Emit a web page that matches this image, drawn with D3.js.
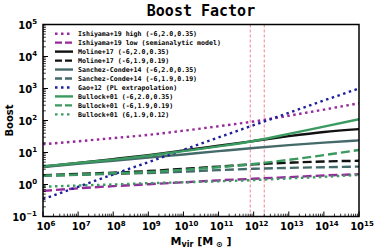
<!DOCTYPE html>
<html>
<head>
<meta charset="utf-8">
<script src="https://cdn.jsdelivr.net/npm/d3@7"></script>
<style>
  html, body { margin: 0; padding: 0; background: #fff; }
  svg { display: block; }
</style>
</head>
<body>
<svg id="chart" width="374" height="249"></svg>
<script>
// Halo mass grid, one point per decade
const masses = [1e6, 1e7, 1e8, 1e9, 1e10, 1e11, 1e12, 1e13, 1e14, 1e15];

// Boost factor for each model
const ishiyamaHigh  = [18.2, 22.4, 28.2, 35.5, 47.9, 66.1, 93.3, 141, 219, 347];
const ishiyamaLow   = [0.63, 0.76, 0.89, 1.02, 1.17, 1.35, 1.51, 1.70, 1.91, 2.09];
const molineHigh    = [3.6, 4.7, 6.2, 8.3, 11.5, 16.2, 22.9, 32.4, 43.7, 53.7];
const molineLow     = [1.95, 2.14, 2.34, 2.63, 3.09, 3.63, 4.27, 4.79, 5.25, 5.5];
const sanchezHigh   = [3.5, 4.4, 5.5, 6.9, 8.7, 11.0, 13.8, 17.0, 20.4, 24.0];
const sanchezLow    = [1.86, 2.0, 2.14, 2.29, 2.51, 2.82, 3.09, 3.31, 3.47, 3.63];
const gaoPL         = [0.35, 0.85, 2.06, 5.0, 12.2, 29.5, 71.6, 174, 422, 1000];
const bullockHigh   = [3.7, 4.7, 6.0, 7.9, 11.0, 15.5, 22.9, 38.0, 64.6, 110];
const bullockLow    = [1.9, 2.04, 2.24, 2.45, 2.88, 3.47, 4.37, 5.89, 8.3, 12.0];
const bullockAlt    = [0.85, 0.93, 1.0, 1.10, 1.17, 1.26, 1.38, 1.55, 1.74, 2.0];

// Milky Way mass range markers
const mwMarkers = [8e11, 2e12];

const xTicks = [6, 7, 8, 9, 10, 11, 12, 13, 14, 15];
const yTicks = [-1, 0, 1, 2, 3, 4, 5];

const PURPLE = '#972a9c', NAVY = '#1f1f9e', GREEN = '#3a9a5f', GREY = '#456a6a';
const DOT = '2.5,3.5', DASH = '9,4';

const series = [
  { label: 'Ishiyama+19 high (-6,2.0,0.35)',        values: ishiyamaHigh, colour: PURPLE, dash: DOT },
  { label: 'Ishiyama+19 low (semianalytic model)',  values: ishiyamaLow,  colour: PURPLE, dash: DASH },
  { label: 'Moline+17 (-6,2.0,0.35)',               values: molineHigh,   colour: '#111', dash: null },
  { label: 'Moline+17 (-6,1.9,0.19)',               values: molineLow,    colour: '#111', dash: DASH },
  { label: 'Sanchez-Conde+14 (-6,2.0,0.35)',        values: sanchezHigh,  colour: GREY,   dash: null },
  { label: 'Sanchez-Conde+14 (-6,1.9,0.19)',        values: sanchezLow,   colour: GREY,   dash: DASH },
  { label: 'Gao+12 (PL extrapolation)',             values: gaoPL,        colour: NAVY,   dash: DOT },
  { label: 'Bullock+01 (-6,2.0,0.35)',              values: bullockHigh,  colour: GREEN,  dash: null },
  { label: 'Bullock+01 (-6,1.9,0.19)',              values: bullockLow,   colour: GREEN,  dash: DASH },
  { label: 'Bullock+01 (6,1.9,0.12)',               values: bullockAlt,   colour: GREEN,  dash: DOT },
];

const svg = d3.select('#chart');
const m = { left: 43, right: 359, top: 24.5, bottom: 216.5 };

const x = d3.scaleLog().domain([1e6, 1e15]).range([m.left, m.right]);
const y = d3.scaleLog().domain([1e-1, 1e5]).range([m.bottom, m.top]);

const SANS = '"DejaVu Sans", sans-serif';
const MONO = '"DejaVu Sans Mono", monospace';

// title
svg.append('text')
  .attr('x', (m.left + m.right) / 2).attr('y', 16)
  .attr('text-anchor', 'middle')
  .attr('font-family', MONO).attr('font-weight', 'bold').attr('font-size', 15)
  .text('Boost Factor');

svg.append('clipPath').attr('id', 'plot-clip')
  .append('rect')
  .attr('x', m.left).attr('y', m.top)
  .attr('width', m.right - m.left).attr('height', m.bottom - m.top);

const plot = svg.append('g').attr('clip-path', 'url(#plot-clip)');

// MW mass markers
plot.selectAll('line.mw')
  .data(mwMarkers)
  .join('line')
  .attr('class', 'mw')
  .attr('x1', d => x(d)).attr('x2', d => x(d))
  .attr('y1', m.top).attr('y2', m.bottom)
  .attr('stroke', '#f0607a').attr('stroke-width', 0.8)
  .attr('stroke-dasharray', '3,2');

const line = d3.line()
  .x((d, i) => x(masses[i]))
  .y(d => y(d))
  .curve(d3.curveMonotoneX);

plot.selectAll('path.series')
  .data(series)
  .join('path')
  .attr('class', 'series')
  .attr('d', d => line(d.values))
  .attr('fill', 'none')
  .attr('stroke', d => d.colour)
  .attr('stroke-width', 2.4)
  .attr('stroke-dasharray', d => d.dash);

// ticks (inward, left and bottom)
const axes = svg.append('g').attr('stroke', '#000');
const minors = [];
for (let e = 6; e < 15; e++) for (let k = 2; k <= 9; k++) minors.push(k * Math.pow(10, e));
axes.selectAll('line.xmaj').data(xTicks).join('line')
  .attr('x1', d => x(Math.pow(10, d))).attr('x2', d => x(Math.pow(10, d)))
  .attr('y1', m.bottom).attr('y2', m.bottom - 5).attr('stroke-width', 1);
axes.selectAll('line.xmin').data(minors).join('line')
  .attr('x1', d => x(d)).attr('x2', d => x(d))
  .attr('y1', m.bottom).attr('y2', m.bottom - 2.8).attr('stroke-width', 0.8);

const yMinors = [];
for (let e = -1; e < 5; e++) for (let k = 2; k <= 9; k++) yMinors.push(k * Math.pow(10, e));
axes.selectAll('line.ymaj').data(yTicks).join('line')
  .attr('y1', d => y(Math.pow(10, d))).attr('y2', d => y(Math.pow(10, d)))
  .attr('x1', m.left).attr('x2', m.left + 5).attr('stroke-width', 1);
axes.selectAll('line.ymin').data(yMinors).join('line')
  .attr('y1', d => y(d)).attr('y2', d => y(d))
  .attr('x1', m.left).attr('x2', m.left + 2.8).attr('stroke-width', 0.8);

// frame
svg.append('rect')
  .attr('x', m.left).attr('y', m.top)
  .attr('width', m.right - m.left).attr('height', m.bottom - m.top)
  .attr('fill', 'none').attr('stroke', '#000').attr('stroke-width', 1.5);

// tick labels
function powLabel(sel, e) {
  sel.append('tspan').text('10');
  sel.append('tspan').attr('dy', -4.5).attr('font-size', 7).text(e < 0 ? '\u2212' + (-e) : e);
}
svg.append('g').selectAll('text').data(xTicks).join('text')
  .attr('x', d => x(Math.pow(10, d)) + 3).attr('y', 230)
  .attr('text-anchor', 'middle')
  .attr('font-family', SANS).attr('font-weight', 'bold').attr('font-size', 10)
  .each(function (d) { powLabel(d3.select(this), d); });
svg.append('g').selectAll('text').data(yTicks).join('text')
  .attr('x', 37).attr('y', d => y(Math.pow(10, d)) + 4)
  .attr('text-anchor', 'end')
  .attr('font-family', SANS).attr('font-weight', 'bold').attr('font-size', 10)
  .each(function (d) { powLabel(d3.select(this), d); });

// axis labels
const xl = svg.append('text')
  .attr('x', (m.left + m.right) / 2).attr('y', 244.5)
  .attr('text-anchor', 'middle')
  .attr('font-family', SANS).attr('font-weight', 'bold').attr('font-size', 11);
xl.append('tspan').text('M');
xl.append('tspan').attr('font-size', 8).attr('dy', 2).text('vir');
xl.append('tspan').attr('dy', -2).text(' [M');
xl.append('tspan').attr('font-size', 8).attr('dy', 2).text(' \u2299');
xl.append('tspan').attr('dy', -2).text(' ]');

svg.append('text')
  .attr('transform', `translate(13,${(m.top + m.bottom) / 2}) rotate(-90)`)
  .attr('text-anchor', 'middle')
  .attr('font-family', SANS).attr('font-weight', 'bold').attr('font-size', 10)
  .text('Boost');

// legend
const legend = svg.append('g').attr('transform', 'translate(55,33.7)');
const row = legend.selectAll('g').data(series).join('g')
  .attr('transform', (d, i) => `translate(0,${i * 8.96})`);
row.append('line')
  .attr('x1', 0).attr('x2', 18).attr('y1', 0).attr('y2', 0)
  .attr('stroke', d => d.colour).attr('stroke-width', 2.4)
  .attr('stroke-dasharray', d => d.dash === DASH ? '7,3' : d.dash);
row.append('text')
  .attr('x', 23).attr('y', 2.3)
  .attr('font-family', MONO).attr('font-weight', 'bold').attr('font-size', 6.6)
  .text(d => d.label);
</script>
</body>
</html>
